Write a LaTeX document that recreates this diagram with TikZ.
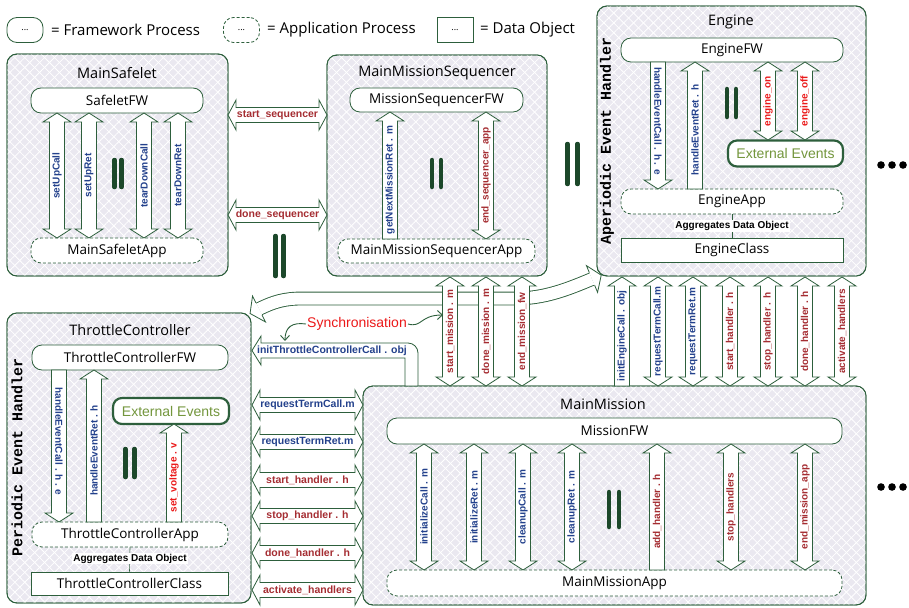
\documentclass[tikz,border=0pt]{standalone}
\usepackage{fontspec}
\setmainfont{Open Sans}
\newfontfamily\arialf{Liberation Sans}
\newfontfamily\monof{Liberation Mono}
\usetikzlibrary{arrows.meta,patterns.meta}
\definecolor{dg}{RGB}{45,95,60}
\definecolor{barc}{RGB}{28,72,42}
\definecolor{boxbg}{RGB}{234,232,240}
\definecolor{tblue}{RGB}{35,65,140}
\definecolor{tbrown}{RGB}{165,45,50}
\definecolor{tred}{RGB}{235,25,25}
\definecolor{tolive}{RGB}{115,150,60}
\tikzset{
  outer/.style={draw=dg, line width=0.9pt, rounded corners=10pt, fill=boxbg,
    postaction={pattern={Lines[angle=45,distance=7pt,line width=0.8pt]}, pattern color=white},
    postaction={pattern={Lines[angle=-45,distance=7pt,line width=0.8pt]}, pattern color=white},
    postaction={draw=dg, line width=0.9pt}},
  fwbox/.style={draw=dg, line width=0.8pt, rounded corners=10pt, fill=white, inner sep=0pt,
    font=\fontsize{13.5}{15}\selectfont},
  appbox/.style={fwbox, dash pattern=on 3pt off 2pt},
  databox/.style={draw=dg, line width=0.8pt, fill=white, inner sep=0pt, font=\fontsize{13.5}{15}\selectfont},
  extbox/.style={draw=dg, line width=2.2pt, rounded corners=9pt, fill=white, inner sep=0pt,
    text=tolive, font=\arialf\fontsize{14}{16}\selectfont},
  title/.style={font=\fontsize{14.5}{16}\selectfont, inner sep=0pt},
  legend/.style={font=\fontsize{15}{17}\selectfont, anchor=west, inner sep=0pt},
  arr/.style={draw=dg, line width=0.8pt, fill=white, line join=miter},
  vlab/.style={font=\arialf\bfseries\fontsize{10}{12}\selectfont, rotate=90, inner sep=0pt},
  vlabdown/.style={font=\arialf\bfseries\fontsize{10}{12}\selectfont, rotate=-90, inner sep=0pt},
  hlab/.style={font=\arialf\bfseries\fontsize{10.5}{12}\selectfont, inner sep=0pt},
  agg/.style={font=\arialf\bfseries\fontsize{10}{12}\selectfont, fill=white, inner sep=1pt},
  bars/.style={draw=barc, line width=4.5pt, line cap=round},
  handler/.style={font=\monof\bfseries\fontsize{15}{17}\selectfont, rotate=90, inner sep=0pt},
  syncarr/.style={draw=dg, line width=0.9pt, -{Straight Barb[length=5pt,width=9pt]}},
}
% vertical double arrow: x, ytop, ybot, colour, text
\newcommand\VD[5]{%
  \draw[arr] (#1,#2) -- ({#1+14},{#2+9}) -- ({#1+7.5},{#2+9}) -- ({#1+7.5},{#3-9}) -- ({#1+14},{#3-9})
    -- (#1,#3) -- ({#1-14},{#3-9}) -- ({#1-7.5},{#3-9}) -- ({#1-7.5},{#2+9}) -- ({#1-14},{#2+9}) -- cycle;
  \node[vlab, text=#4] at (#1,{(#2+#3)/2}) {#5};}
% vertical single arrow pointing up
\newcommand\VU[5]{%
  \draw[arr] (#1,#2) -- ({#1+14},{#2+9}) -- ({#1+7.5},{#2+9}) -- ({#1+7.5},#3)
    -- ({#1-7.5},#3) -- ({#1-7.5},{#2+9}) -- ({#1-14},{#2+9}) -- cycle;
  \node[vlab, text=#4] at (#1,{(#2+#3+9)/2}) {#5};}
% vertical single arrow pointing down
\newcommand\VN[5]{%
  \draw[arr] ({#1-7.5},#2) -- ({#1+7.5},#2) -- ({#1+7.5},{#3-9}) -- ({#1+14},{#3-9})
    -- (#1,#3) -- ({#1-14},{#3-9}) -- ({#1-7.5},{#3-9}) -- cycle;
  \node[vlabdown, text=#4] at (#1,{(#2+#3-9)/2}) {#5};}
% horizontal double arrow: y, xleft, xright, colour, text
\newcommand\HD[5]{%
  \draw[arr] (#2,#1) -- ({#2+8},{#1-15}) -- ({#2+8},{#1-7.5}) -- ({#3-8},{#1-7.5}) -- ({#3-8},{#1-15})
    -- (#3,#1) -- ({#3-8},{#1+15}) -- ({#3-8},{#1+7.5}) -- ({#2+8},{#1+7.5}) -- ({#2+8},{#1+15}) -- cycle;
  \node[hlab, text=#4] at ({(#2+#3)/2},#1) {#5};}
\newcommand\Bars[4]{\draw[bars] (#1,#3) -- (#1,#4); \draw[bars] (#2,#3) -- (#2,#4);}
\newcommand\FatHead{%
  \fill[white] (0,-14.5) -- (10,0) -- (0,14.5) -- cycle;
  \draw[dg, line width=0.8pt, line join=miter] (0,-6.9) -- (0,-14.5) -- (10,0) -- (0,14.5) -- (0,6.9);}

\begin{document}
\begin{tikzpicture}[x=1pt,y=-1pt]
\useasboundingbox (0,0) rectangle (909,607);

% ---------- legend ----------
\node[fwbox, minimum width=36pt, minimum height=25pt, font=\fontsize{9}{10}\selectfont] (lgfw) at (25,30) {...};
\node[legend] (lgfwt) at (51,30) {= Framework Process};
\node[appbox, minimum width=36pt, minimum height=25pt, font=\fontsize{9}{10}\selectfont] (lgapp) at (241.5,30) {...};
\node[legend] (lgappt) at (267,30) {= Application Process};
\node[databox, minimum width=36pt, minimum height=25pt, font=\fontsize{9}{10}\selectfont] (lgdo) at (455,30) {...};
\node[legend] (lgdot) at (480,30) {= Data Object};

% ---------- outer boxes ----------
\node[outer, minimum width=221pt, minimum height=222pt] (safelet) at (117.5,165) {};
\node[outer, minimum width=220pt, minimum height=221pt] (seq) at (437,165.5) {};
\node[outer, minimum width=269pt, minimum height=270pt] (engine) at (731.5,141) {};
\node[outer, minimum width=244pt, minimum height=290pt] (throttle) at (129,458) {};
\node[outer, minimum width=503pt, minimum height=219pt] (mission) at (614.5,495.5) {};

% ---------- titles ----------
\node[title] (tsafelet) at (117,73) {MainSafelet};
\node[title] (tseq) at (437,73) {MainMissionSequencer};
\node[title] (tengine) at (731,22) {Engine};
\node[title] (tthrottle) at (130,330) {ThrottleController};
\node[title] (tmission) at (603,404) {MainMission};
\node[handler] (hap) at (607,141) {Aperiodic Event Handler};
\node[handler] (hp) at (17,457) {Periodic Event Handler};

% ---------- inner processes ----------
\node[fwbox, minimum width=172pt, minimum height=25pt] (safeletfw) at (117,100.5) {SafeletFW};
\node[appbox, minimum width=172pt, minimum height=25pt] (safeletapp) at (117,250.5) {MainSafeletApp};
\node[fwbox, minimum width=173pt, minimum height=24pt] (seqfw) at (436.5,100) {MissionSequencerFW};
\node[appbox, minimum width=197pt, minimum height=24pt] (seqapp) at (436.5,251) {MainMissionSequencerApp};
\node[fwbox, minimum width=222pt, minimum height=24pt] (enginefw) at (732,50) {EngineFW};
\node[appbox, minimum width=222pt, minimum height=25pt] (engineapp) at (732,201.5) {EngineApp};
\node[databox, minimum width=222pt, minimum height=24pt] (engineclass) at (732,250) {EngineClass};
\node[extbox, minimum width=115pt, minimum height=26pt] (engineext) at (785.5,153.5) {External Events};
\node[fwbox, minimum width=196pt, minimum height=25pt] (throttlefw) at (130,357.5) {ThrottleControllerFW};
\node[appbox, minimum width=196pt, minimum height=25pt] (throttleapp) at (130,534.5) {ThrottleControllerApp};
\node[databox, minimum width=197pt, minimum height=23pt] (throttleclass) at (129.5,583.5) {ThrottleControllerClass};
\node[extbox, minimum width=116pt, minimum height=26pt] (throttleext) at (171,411) {External Events};
\node[fwbox, minimum width=455pt, minimum height=26pt] (missionfw) at (614.5,431) {MissionFW};
\node[appbox, minimum width=455pt, minimum height=26pt] (missionapp) at (614.5,583) {MainMissionApp};

% aggregates
\draw[dg, line width=0.6pt] (engineapp.south) -- (engineclass.north);
\node[agg] (aggE) at (732,226) {Aggregates Data Object};
\draw[dg, line width=0.6pt] (throttleapp.south) -- (throttleclass.north);
\node[agg] (aggT) at (130,558.5) {Aggregates Data Object};

% ---------- MainSafelet arrows ----------
\VD{57}{113}{238}{tblue}{setUpCall}
\VD{89}{113}{238}{tblue}{setUpRet}
\VD{144}{113}{238}{tblue}{tearDownCall}
\VD{178}{113}{238}{tblue}{tearDownRet}
\Bars{114.5}{121.5}{160}{187}

% ---------- Sequencer arrows ----------
\VU{390}{112}{239}{tblue}{getNextMissionRet . m}
\VD{486}{112}{239}{tbrown}{end\_sequencer\_app}
\Bars{432}{441}{160}{187}

% channels safelet <-> sequencer
\HD{115}{228}{327}{tbrown}{start\_sequencer}
\HD{215}{228}{327}{tbrown}{done\_sequencer}
\Bars{275.5}{283.5}{236}{276}
\Bars{567.5}{577.5}{144}{184}

% ---------- Engine arrows ----------
\VN{658}{62}{189}{tblue}{handleEventCall . h . e}
\VU{695}{62}{189}{tblue}{handleEventRet . h}
\VD{768}{62}{140}{tred}{engine\_on}
\VD{805}{62}{140}{tred}{engine\_off}
\Bars{727}{736}{89}{117}
\fill (881,165) circle (3.8pt) (892,165) circle (3.8pt) (903,165) circle (3.8pt);

% ---------- Throttle arrows ----------
\VN{59}{370}{522}{tblue}{handleEventCall . h . e}
\VU{94}{370}{522}{tblue}{handleEventRet . h}
\VU{174}{424}{522}{tred}{set\_voltage . v}
\Bars{125.5}{134.5}{449}{477}

% ---------- MainMission arrows ----------
\VD{424}{444}{570}{tblue}{initializeCall . m}
\VD{474}{444}{570}{tblue}{initializeRet . m}
\VD{523}{444}{570}{tblue}{cleanupCall . m}
\VD{572}{444}{570}{tblue}{cleanupRet . m}
\VU{657}{444}{570}{tbrown}{add\_handler . h}
\VD{731}{444}{570}{tbrown}{stop\_handlers}
\VD{805}{444}{570}{tbrown}{end\_mission\_app}
\Bars{609}{619}{492}{527}
\fill (881,487) circle (3.8pt) (892,487) circle (3.8pt) (903,487) circle (3.8pt);

% ---------- wide curved arrow (behind channel arrows) ----------
\draw[dg, line width=0.9pt, double=white, double distance=12pt]
  (259,309) .. controls (273,302) and (284,298.5) .. (302,298.5) -- (515,298.5)
  .. controls (545,298.5) and (568,289) .. (592,279);
\begin{scope}[shift={(592,279)}, rotate=22.6]\FatHead\end{scope}
\begin{scope}[shift={(259,309)}, rotate=206.6]\FatHead\end{scope}

% ---------- sequencer <-> mission channels ----------
\VD{450}{277}{386}{tbrown}{start\_mission . m}
\VD{486}{277}{386}{tbrown}{done\_mission . m}
\VD{522}{277}{386}{tbrown}{end\_mission\_fw}

% ---------- engine <-> mission channels ----------
\VU{622}{277}{386}{tblue}{initEngineCall . obj}
\VD{658}{277}{386}{tblue}{requestTermCall.m}
\VD{693}{277}{386}{tblue}{requestTermRet.m}
\VD{730}{277}{386}{tbrown}{start\_handler . h}
\VD{768}{277}{386}{tbrown}{stop\_handler . h}
\VD{805}{277}{386}{tbrown}{done\_handler . h}
\VD{842}{277}{386}{tbrown}{activate\_handlers}

% ---------- throttle <-> mission channels ----------
\draw[arr] (261,343) -- (261,336) -- (252,350.5) -- (261,365) -- (261,358) -- (405,358) -- (405,386)
  -- (418,386) -- (418,353) arc[start angle=0, end angle=-90, radius=10] -- cycle;
\node[hlab, text=tblue] (initTC) at (332,350.5) {initThrottleControllerCall . obj};
\HD{405}{252}{363}{tblue}{requestTermCall.m}
\HD{442}{252}{363}{tblue}{requestTermRet.m}
\HD{480}{252}{363}{tbrown}{start\_handler . h}
\HD{516}{252}{363}{tbrown}{stop\_handler . h}
\HD{553}{252}{363}{tbrown}{done\_handler . h}
\HD{590}{252}{363}{tbrown}{activate\_handlers}

% ---------- synchronisation ----------
\node[text=tred, font=\arialf\fontsize{14}{16}\selectfont, inner sep=1pt] (sync) at (357,324) {Synchronisation};
\coordinate (syncA) at (285,341);
\coordinate (syncB) at (443,315);
\draw[syncarr] (sync.west) .. controls (292,322) and (285,327) .. (syncA);
\draw[syncarr] (sync.east) .. controls (422,328) and (420,315) .. (syncB);
\end{tikzpicture}
\end{document}
